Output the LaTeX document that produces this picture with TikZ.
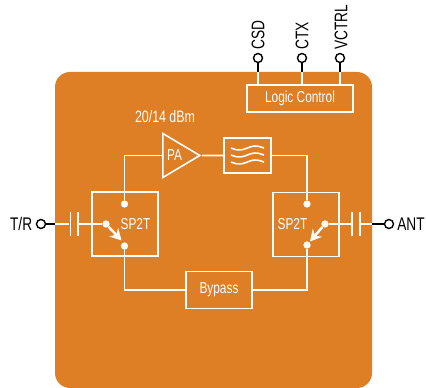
\documentclass[tikz,border=0pt]{standalone}
\usepackage{fontspec}
\setmainfont[FakeStretch=0.75]{Liberation Sans}
\usetikzlibrary{shapes.geometric,arrows.meta}
\definecolor{chiporange}{HTML}{DE7E25}
\tikzset{
    wire/.style={white, line width=0.9pt},
    block/.style={draw=white, line width=0.9pt, text=white, inner sep=0pt, font=\fontsize{9}{11}\selectfont},
    dot/.style={circle, fill=white, minimum size=0.145cm, inner sep=0pt},
    plate/.style={fill=white, minimum width=0.9pt, minimum height=0.48cm, inner sep=0pt},
    pin/.style={circle, draw=black, fill=white, line width=0.8pt, minimum size=0.18cm, inner sep=0pt},
    pinlabel/.style={text=black, inner sep=0pt, font=\fontsize{10.4}{12}\selectfont}
}
\begin{document}
\begin{tikzpicture}[x=0.02cm, y=-0.02cm]
    \useasboundingbox (0,0) rectangle (426,388);
    \fill[chiporange, rounded corners=0.3cm] (55,72) rectangle (372,388);
    % blocks
    \node[block, minimum width=2.12cm, minimum height=0.54cm] (logic) at (300,98.5) {Logic Control};
    \node[block, minimum width=1.32cm, minimum height=1.28cm] (swleft) at (125,224) {\hspace{0.42cm}SP2T};
    \node[block, minimum width=1.32cm, minimum height=1.28cm] (swright) at (306,224.5) {SP2T\hspace{0.54cm}\mbox{}};
    \node[block, minimum width=1.32cm, minimum height=0.74cm] (bypass) at (219,290) {Bypass};
    \node[block, minimum width=0.94cm, minimum height=0.7cm] (filter) at (247.5,155.5) {};
    \node[block, isosceles triangle, isosceles triangle stretches, minimum width=0.88cm, minimum height=0.74cm, anchor=west] (pa) at (162,155.5) {PA};
    \node[text=white, inner sep=0pt, font=\fontsize{9.4}{11}\selectfont] (power) at (165,117) {20/14 dBm};
    % switch contacts
    \node[dot] (lefttop) at (124.5,204) {};
    \node[dot] (leftpivot) at (106,224) {};
    \node[dot] (leftbot) at (124.5,246) {};
    \node[dot] (righttop) at (307,204) {};
    \node[dot] (rightpivot) at (325,224) {};
    \node[dot] (rightbot) at (307,245) {};
    \draw[white, line width=1.4pt, -{Stealth[length=6.5pt,width=7pt]}] (leftpivot) -- (121.5,240.5);
    \draw[white, line width=1.4pt, -{Stealth[length=6.5pt,width=7pt]}] (rightpivot) -- (310,241.5);
    % capacitors
    \node[plate] (capla) at (70.5,224) {};
    \node[plate] (caplb) at (78,224) {};
    \node[plate] (capra) at (352,224) {};
    \node[plate] (caprb) at (360,224) {};
    % pins
    \node[pin] (tr) at (41,224) {};
    \node[pin] (ant) at (389,224) {};
    \node[pin] (csd) at (258,58) {};
    \node[pin] (ctx) at (302,58) {};
    \node[pin] (vctrl) at (340,58) {};
    \node[pinlabel, anchor=east] at (32.5,224) {T/R};
    \node[pinlabel, anchor=west] at (397,224) {ANT};
    \node[pinlabel, anchor=west, rotate=90] at (258,50) {CSD};
    \node[pinlabel, anchor=west, rotate=90] at (302,50) {CTX};
    \node[pinlabel, anchor=west, rotate=90] at (341,50) {VCTRL};
    % edge of the orange part
    \coordinate (edgel) at (55,224);
    \coordinate (edger) at (372,224);
    \coordinate (edgecsd) at (258,72);
    \coordinate (edgectx) at (302,72);
    \coordinate (edgevctrl) at (340,72);
    \draw[black, line width=0.9pt] (tr) -- (edgel);
    \draw[black, line width=0.9pt] (ant) -- (edger);
    \draw[black, line width=0.9pt] (csd) -- (edgecsd);
    \draw[black, line width=0.9pt] (ctx) -- (edgectx);
    \draw[black, line width=0.9pt] (vctrl) -- (edgevctrl);
    % wires
    \draw[wire] (edgel) -- (capla);
    \draw[wire] (caplb) -- (leftpivot);
    \draw[wire] (edger) -- (caprb);
    \draw[wire] (capra) -- (rightpivot);
    \draw[wire] (edgecsd) -- (edgecsd |- logic.north);
    \draw[wire] (edgectx) -- (edgectx |- logic.north);
    \draw[wire] (edgevctrl) -- (edgevctrl |- logic.north);
    \draw[wire] (lefttop) |- (pa.west);
    \draw[wire] (pa.east) -- (filter);
    \draw[wire] (filter) -| (righttop);
    \draw[wire] (leftbot) |- (bypass);
    \draw[wire] (bypass) -| (rightbot);
    % filter waves
    \foreach \wavey in {148,155,162} {
        \draw[white, line width=0.9pt] plot[smooth, domain=231:264, samples=15] (\x, {\wavey+2*sin(11*(\x-231))});
    }
\end{tikzpicture}
\end{document}
